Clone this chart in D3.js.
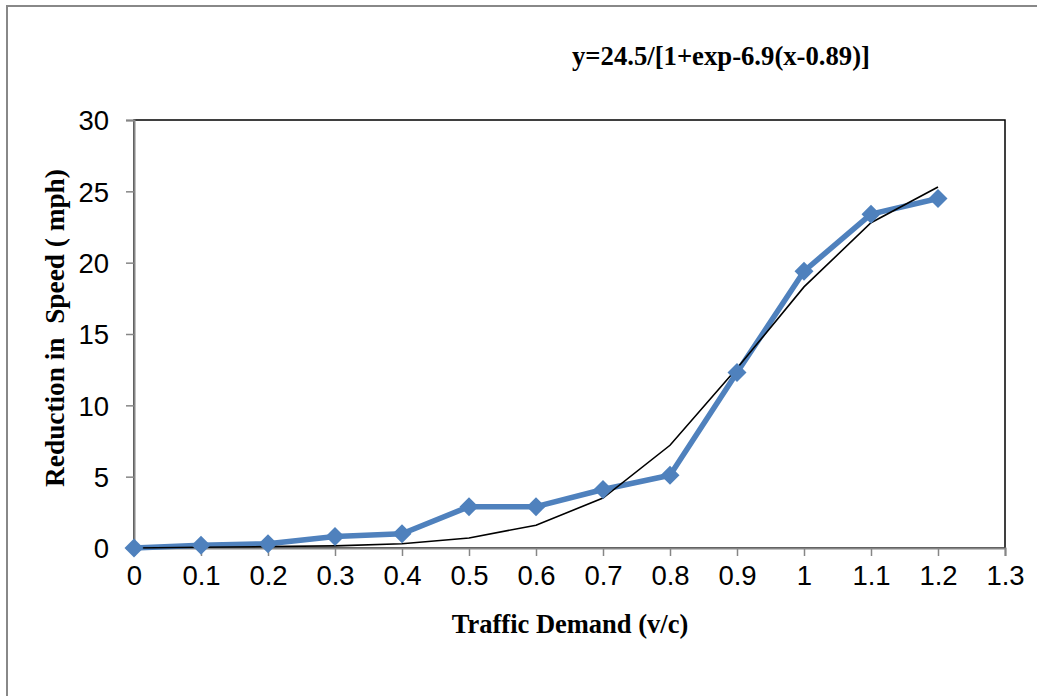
<!DOCTYPE html>
<html><head><meta charset="utf-8">
<script src="https://cdn.jsdelivr.net/npm/d3@7"></script>
<style>body{margin:0;background:#fff}svg{display:block}</style>
</head><body>
<svg id="c" width="1037" height="696"></svg>
<script>
const xValues = [0,0.1,0.2,0.3,0.4,0.5,0.6,0.7,0.8,0.9,1.0,1.1,1.2];
const observed = [0,0.2,0.3,0.8,1.0,2.9,2.9,4.1,5.1,12.3,19.4,23.4,24.5];
const fitted = [0,0.05,0.1,0.15,0.3,0.7,1.6,3.5,7.2,12.6,18.3,22.8,25.3];
const xTicks = [0,0.1,0.2,0.3,0.4,0.5,0.6,0.7,0.8,0.9,1,1.1,1.2,1.3];
const yTicks = [0,5,10,15,20,25,30];
const titleText = "y=24.5/[1+exp-6.9(x-0.89)]";
const xLabel = "Traffic Demand (v/c)";
const yLabel = "Reduction in  Speed ( mph)";

const svg = d3.select("#c");
const L=134,R=1005,T=120,B=548;
const x = d3.scaleLinear().domain([0,1.3]).range([L,R]);
const y = d3.scaleLinear().domain([0,30]).range([B,T]);
const grey="#868686";

svg.append("path").attr("d","M7,696V6H1037").attr("fill","none").attr("stroke","#888").attr("stroke-width",2);

svg.append("rect").attr("x",L).attr("y",T).attr("width",R-L).attr("height",B-T)
  .attr("fill","none").attr("stroke","#000").attr("stroke-width",1.5);

const xAxis = svg.append("g").attr("transform",`translate(0,${B})`)
  .call(d3.axisBottom(x).tickValues(xTicks).tickFormat(d=>String(+d.toFixed(1))).tickSize(8).tickPadding(9));
const yAxis = svg.append("g").attr("transform",`translate(${L},0)`)
  .call(d3.axisLeft(y).tickValues(yTicks).tickSize(8).tickPadding(17));
[xAxis,yAxis].forEach(g=>{
  g.attr("font-size",null).attr("font-family",null);
  g.select(".domain").attr("stroke",grey).attr("stroke-width",2);
  g.selectAll(".tick line").attr("stroke",grey).attr("stroke-width",1.5);
  g.selectAll(".tick text").attr("fill","#000").style("font-family","'Liberation Sans',Arial,sans-serif").style("font-size","27.5px");
});
yAxis.selectAll(".tick text").attr("dy","0.36em");
xAxis.selectAll(".tick text").attr("dy","0.72em");

const pts = xValues.map((v,i)=>({x:v,o:observed[i],f:fitted[i]}));

svg.append("path").datum(pts)
  .attr("d",d3.line().x(d=>x(d.x)).y(d=>y(d.o)))
  .attr("fill","none").attr("stroke","#4F81BD").attr("stroke-width",5.5).attr("stroke-linejoin","round");
svg.append("path").datum(pts)
  .attr("d",d3.line().x(d=>x(d.x)).y(d=>y(d.f)))
  .attr("fill","none").attr("stroke","#000").attr("stroke-width",1.6);
const s=9.5;
svg.append("g").selectAll("path").data(pts).join("path")
  .attr("d",d=>`M${x(d.x)},${y(d.o)-s}L${x(d.x)+s},${y(d.o)}L${x(d.x)},${y(d.o)+s}L${x(d.x)-s},${y(d.o)}Z`)
  .attr("fill","#4F81BD");

const serif="'Liberation Serif','Times New Roman',serif";
svg.append("text").attr("x",721).attr("y",65).attr("text-anchor","middle")
  .style("font-family",serif).style("font-weight","bold").style("font-size","26.7px").text(titleText);
svg.append("text").attr("x",570).attr("y",633).attr("text-anchor","middle")
  .style("font-family",serif).style("font-weight","bold").style("font-size","26.5px").text(xLabel);
svg.append("text").attr("transform","translate(64,328) rotate(-90)").attr("text-anchor","middle")
  .style("font-family",serif).style("font-weight","bold").style("font-size","27.3px")
  .style("white-space","pre").text(yLabel);
</script>
</body></html>
